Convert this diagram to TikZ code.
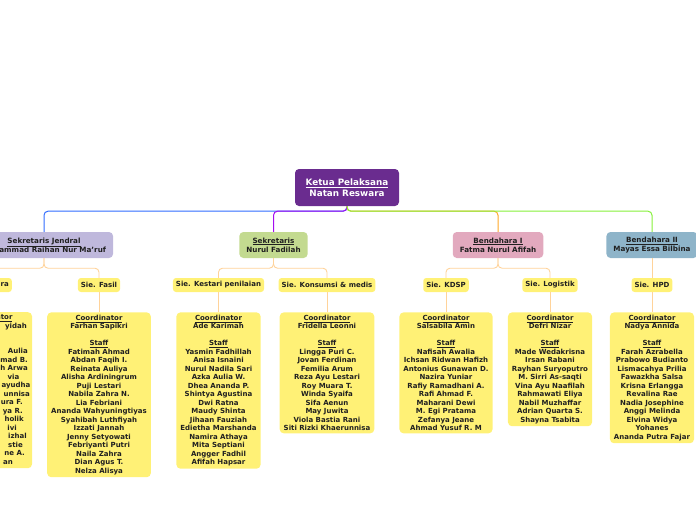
\documentclass[tikz,border=0pt]{standalone}
\usepackage{fontspec}
\setmainfont{DejaVu Sans}
\usepackage{tikz}
\usetikzlibrary{positioning}

\definecolor{rootpurple}{HTML}{6A2C8F}
\definecolor{lavender}{HTML}{BFB8DC}
\definecolor{sekgreen}{HTML}{C3DA90}
\definecolor{bendpink}{HTML}{E2A9BE}
\definecolor{bendblue}{HTML}{8EB4C9}
\definecolor{sieyellow}{HTML}{FFF176}
\definecolor{linkblue}{HTML}{2F6BFF}
\definecolor{linkpurple}{HTML}{A40CF0}
\definecolor{linkorange}{HTML}{FFA726}
\definecolor{linkgreen}{HTML}{86F03A}
\definecolor{linkpeach}{HTML}{FFD39A}
\definecolor{textdark}{HTML}{202020}

\tikzset{
    root/.style={fill=rootpurple, text=white, rounded corners=4pt, align=center,
        minimum width=104pt, minimum height=37pt,
        font=\bfseries\fontsize{8.8}{11}\selectfont},
    head/.style={rounded corners=4pt, align=center, text=textdark,
        minimum height=26pt, inner xsep=7pt,
        font=\bfseries\fontsize{7.2}{9}\selectfont},
    sie/.style={fill=sieyellow, rounded corners=3pt, text=textdark,
        minimum height=14pt, inner xsep=3pt, inner ysep=2pt,
        font=\bfseries\fontsize{7}{8.5}\selectfont},
    staff/.style={fill=sieyellow, rounded corners=4pt, text=textdark, align=center,
        anchor=north, inner xsep=4pt, inner ysep=2.5pt,
        font=\bfseries\fontsize{7}{8.5}\selectfont},
    frag/.style={text=textdark, inner sep=0pt,
        font=\bfseries\fontsize{7}{8.5}\selectfont},
    link/.style={line width=1pt, rounded corners=4pt},
    twig/.style={line width=0.9pt, linkpeach, rounded corners=4pt}
}

\begin{document}
\begin{tikzpicture}[x=1pt, y=-1pt]
        \def\hy{245}
        \def\sy{285}

        \useasboundingbox (0,0) rectangle (696,520);
        \clip (0,0) rectangle (696,520);

        % Root
        \node[root] (ketua) at (347,187.5) {\underline{Ketua Pelaksana}\\Natan Reswara};

        % Heads
        \node[head, fill=lavender] (sekjen) at (44,\hy) {\underline{Sekretaris Jendral}\\Muhammad Raihan Nur Ma'ruf};
        \node[head, fill=sekgreen] (sekre) at (273.5,\hy) {\underline{Sekretaris}\\Nurul Fadilah};
        \node[head, fill=bendpink] (bendsatu) at (498,\hy) {\underline{Bendahara I}\\Fatma Nurul Afifah};
        \node[head, fill=bendblue] (benddua) at (652,\hy) {\underline{Bendahara II}\\Mayas Essa Bilbina};

        % Sie labels
        \node[sie, anchor=east, text width=30pt, align=right] (acara) at (12,\sy) {ra};
        \node[sie] (fasil) at (99,\sy) {Sie. Fasil};
        \node[sie] (kestari) at (218.5,\sy) {Sie. Kestari penilaian};
        \node[sie] (konsumsi) at (327,\sy) {Sie. Konsumsi \& medis};
        \node[sie] (kdsp) at (446,\sy) {Sie. KDSP};
        \node[sie] (logistik) at (550,\sy) {Sie. Logistik};
        \node[sie] (hpd) at (652,\sy) {Sie. HPD};

        % Staff boxes
        \node[staff, minimum width=86pt, minimum height=156pt] (acarastaff) at (-11,312) {};
        \node[frag, anchor=base] (acaracoord) at (-11,319.8) {\underline{Coordinator}};
        \foreach \t/\x/\r in {yidah/27/1, Aulia/28/4, mad B./28/5, h Arwa/28/6, via/19.5/7,
                ayudha/30.5/8, unnisa/30/9, ura F./23/10, ya R./23/11, holik/24/12,
                ivi/17/13, izhal/27/14, stie/23/15, ne A./25/16, an/13/17}
            \node[frag, anchor=base east] (frag\r) at (\x,319.8+\r*8.5) {\t};

        \node[staff, below=20pt of fasil] (fasilstaff) {\underline{Coordinator}\\Farhan Sapikri\\[8.5pt]
            \underline{Staff}\\Fatimah Ahmad\\Abdan Faqih I.\\Reinata Auliya\\Alisha Ardiningrum\\
            Puji Lestari\\Nabila Zahra N.\\Lia Febriani\\Ananda Wahyuningtiyas\\Syahibah Luthfiyah\\
            Izzati Jannah\\Jenny Setyowati\\Febriyanti Putri\\Naila Zahra\\Dian Agus T.\\Nelza Alisya};
        \node[staff, below=20pt of kestari] (kestaristaff) {\underline{Coordinator}\\Ade Karimah\\[8.5pt]
            \underline{Staff}\\Yasmin Fadhillah\\Anisa Isnaini\\Nurul Nadila Sari\\Azka Aulia W.\\
            Dhea Ananda P.\\Shintya Agustina\\Dwi Ratna\\Maudy Shinta\\Jihaan Fauziah\\
            Edietha Marshanda\\Namira Athaya\\Mita Septiani\\Angger Fadhil\\Afifah Hapsar};
        \node[staff, below=20pt of konsumsi] (konsumsistaff) {\underline{Coordinator}\\Fridella Leonni\\[8.5pt]
            \underline{Staff}\\Lingga Puri C.\\Jovan Ferdinan\\Femilia Arum\\Reza Ayu Lestari\\
            Roy Muara T.\\Winda Syaifa\\Sifa Aenun\\May Juwita\\Viola Bastia Rani\\Siti Rizki Khaerunnisa};
        \node[staff, below=20pt of kdsp] (kdspstaff) {\underline{Coordinator}\\Salsabila Amin\\[8.5pt]
            \underline{Staff}\\Nafisah Awalia\\Ichsan Ridwan Hafizh\\Antonius Gunawan D.\\Nazira Yuniar\\
            Rafiy Ramadhani A.\\Rafi Ahmad F.\\Maharani Dewi\\M. Egi Pratama\\Zefanya Jeane\\Ahmad Yusuf R. M};
        \node[staff, below=20pt of logistik] (logistikstaff) {\underline{Coordinator}\\Defri Nizar\\[8.5pt]
            \underline{Staff}\\Made Wedakrisna\\Irsan Rabani\\Rayhan Suryoputro\\M. Sirri As-saqti\\
            Vina Ayu Naafilah\\Rahmawati Eliya\\Nabil Muzhaffar\\Adrian Quarta S.\\Shayna Tsabita};
        \node[staff, below=20pt of hpd] (hpdstaff) {\underline{Coordinator}\\Nadya Annida\\[8.5pt]
            \underline{Staff}\\Farah Azrabella\\Prabowo Budianto\\Lismacahya Prilia\\Fawazkha Salsa\\
            Krisna Erlangga\\Revalina Rae\\Nadia Josephine\\Anggi Melinda\\Elvina Widya\\Yohanes\\Ananda Putra Fajar};

        % Root branches
        \draw[link, linkblue] (ketua.south) -- ++(0,5) -| (sekjen.north);
        \draw[link, linkpurple] (ketua.south) -- ++(0,5) -| (sekre.north);
        \draw[link, linkorange] (ketua.south) -- ++(0,5) -| (bendsatu.north);
        \draw[link, linkgreen] (ketua.south) -- ++(0,5) -| (benddua.north);

        % Head to sie
        \draw[twig] (sekjen.south) -- ++(0,10) -| (acara.north);
        \draw[twig] (sekjen.south) -- ++(0,10) -| (fasil.north);
        \draw[twig] (sekre.south) -- ++(0,10) -| (kestari.north);
        \draw[twig] (sekre.south) -- ++(0,10) -| (konsumsi.north);
        \draw[twig] (bendsatu.south) -- ++(0,10) -| (kdsp.north);
        \draw[twig] (bendsatu.south) -- ++(0,10) -| (logistik.north);
        \draw[twig] (benddua.south) -- (hpd.north);

        % Sie to staff
        \draw[twig] (acara.south) -- (acarastaff.north);
        \foreach \s in {fasil, kestari, konsumsi, kdsp, logistik, hpd}
            \draw[twig] (\s.south) -- (\s staff.north);
\end{tikzpicture}
\end{document}
